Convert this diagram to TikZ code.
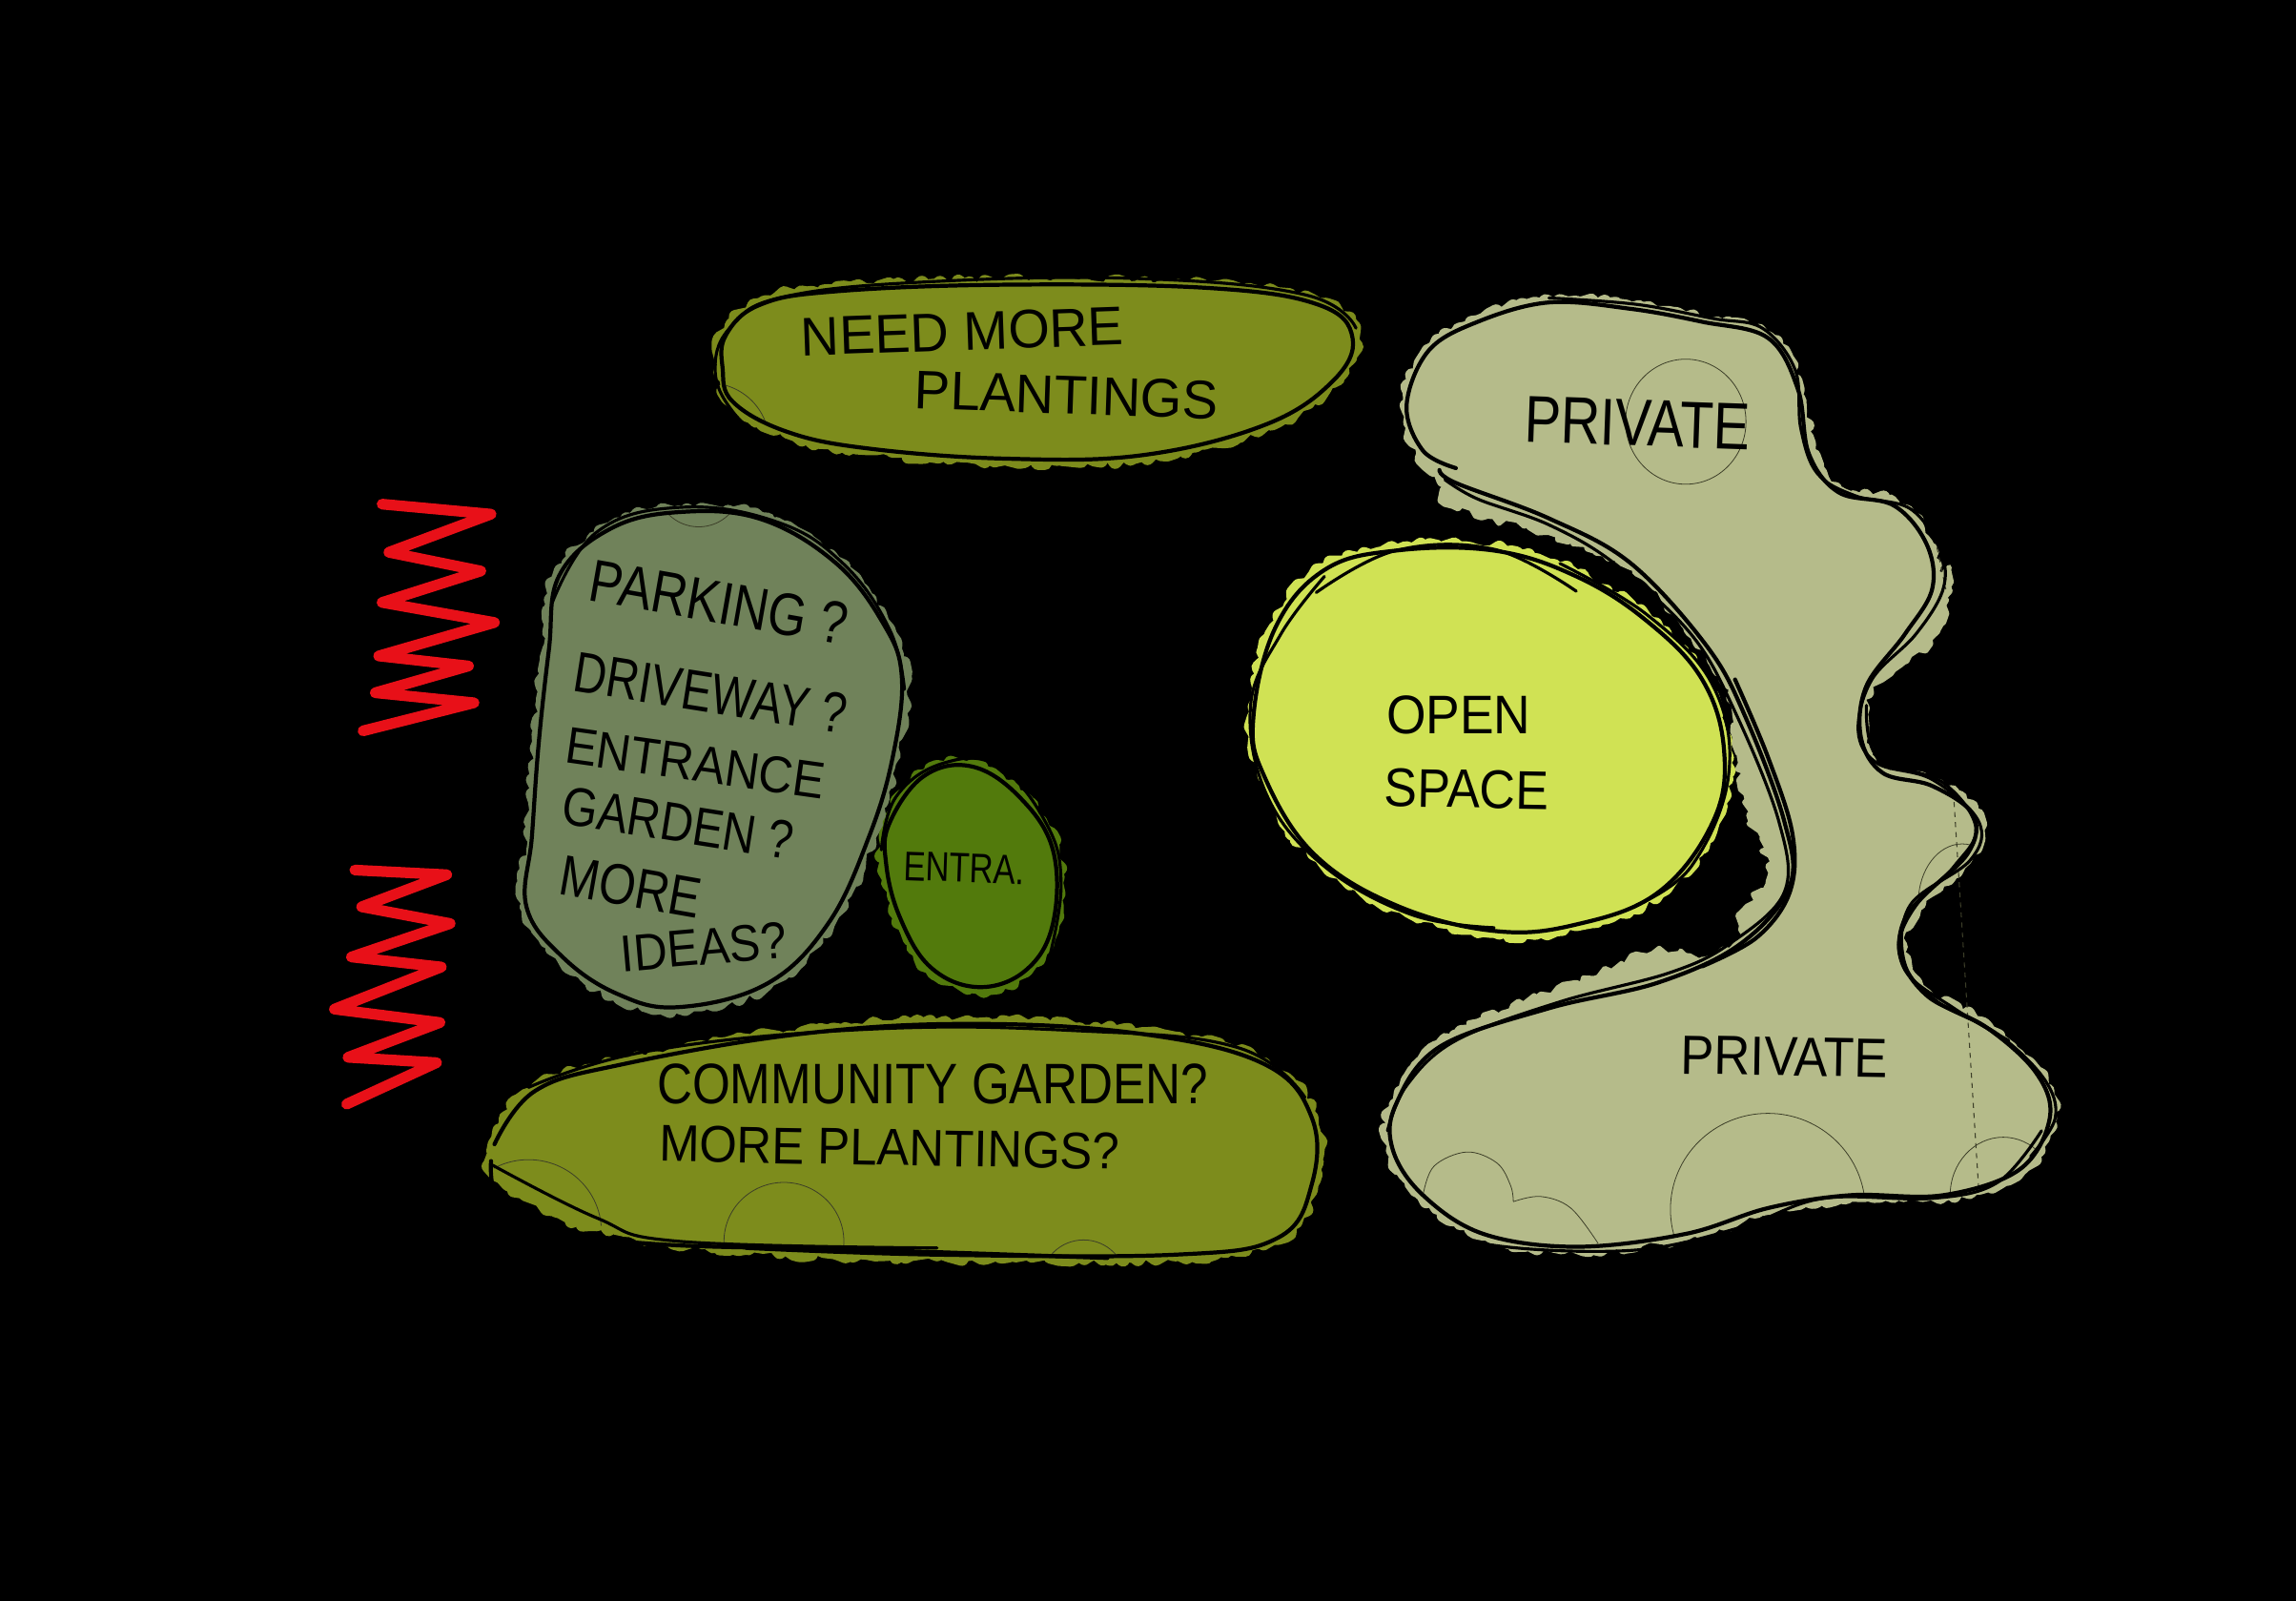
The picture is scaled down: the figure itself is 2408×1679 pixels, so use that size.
\documentclass[tikz,border=0pt]{standalone}
\usepackage{fontspec}
\usepackage{graphicx}
\setmainfont{Liberation Sans}
\usetikzlibrary{decorations.pathmorphing}
\definecolor{olivepaint}{RGB}{125,140,28}
\definecolor{graypaint}{RGB}{112,130,90}
\definecolor{greenpaint}{RGB}{82,122,12}
\definecolor{limepaint}{RGB}{208,226,84}
\definecolor{khakipaint}{RGB}{181,187,138}
\definecolor{redpaint}{RGB}{232,16,24}
\definecolor{faint}{RGB}{60,62,40}
\newdimen\pxu \pxu=0.5669pt
\newcommand\hw[3]{\resizebox{#1\pxu}{#2\pxu}{#3}}
\def\pathTop{plot[smooth cycle,tension=.65] coordinates {(590,130)(640,85)(750,65)(1000,55)(1300,60)(1460,85)(1510,135)(1480,200)(1380,265)(1200,310)(1000,315)(800,300)(680,275)(600,230)(585,180)}}
\def\pathPark{plot[smooth cycle,tension=.65] coordinates {(345,490)(420,420)(520,395)(640,405)(750,470)(820,560)(848,640)(835,760)(800,880)(740,1010)(650,1100)(520,1135)(430,1115)(350,1060)(297,985)(305,880)(315,740)(330,600)}}
\def\pathEntry{plot[smooth cycle,tension=.65] coordinates {(830,860)(880,790)(950,775)(1020,820)(1070,900)(1070,1010)(1030,1080)(960,1105)(890,1075)(845,1000)(825,920)}}
\def\pathComm{plot[smooth cycle,tension=.65] coordinates {(250,1340)(310,1260)(440,1220)(700,1175)(950,1160)(1200,1175)(1380,1220)(1450,1300)(1450,1400)(1400,1480)(1250,1505)(900,1505)(620,1495)(400,1460)(270,1400)}}
\def\pathPriv{plot[smooth cycle,tension=.6] coordinates {(340,215)(380,130)(470,85)(600,55)(750,65)(880,85)(1000,110)(1055,190)(1075,290)(1130,350)(1230,370)(1290,430)(1300,500)(1250,570)(1180,650)(1170,730)(1210,785)(1300,805)(1375,850)(1365,910)(1270,990)(1240,1060)(1290,1130)(1400,1180)(1490,1250)(1515,1320)(1460,1400)(1320,1440)(1150,1440)(1000,1460)(850,1500)(650,1520)(480,1500)(370,1440)(315,1370)(320,1300)(400,1210)(600,1150)(800,1110)(950,1050)(1040,960)(1030,860)(960,700)(890,590)(750,460)(600,390)(430,335)(370,290)}}
\def\pathLime{plot[smooth cycle,tension=.65] coordinates {(60,700)(100,560)(190,470)(320,440)(500,440)(650,480)(780,550)(880,640)(920,750)(900,860)(800,970)(650,1020)(500,1030)(320,990)(170,910)(80,790)}}
\tikzset{
  zoomA/.style={shift={(340,260)},xscale=0.7143,yscale=0.7015},
  zoomB/.style={shift={(1280,280)},xscale=0.5741,yscale=0.676},
  ink/.style={draw=black,line width=2.4pt,line cap=round,line join=round},
  inkthin/.style={draw=black,line width=1.8pt,line cap=round,line join=round},
  fuzz/.style={line width=8pt,line join=round,line cap=round,decorate,decoration={random steps,segment length=3.5pt,amplitude=2.5pt}},
  ring/.style={draw=faint,line width=0.45pt},
  zig/.style={draw=redpaint,line width=6.4pt,line cap=round,line join=round},
  hand/.style={inner sep=0pt,text=black},
}
\begin{document}
\begin{tikzpicture}[x=0.02cm,y=-0.02cm]
\pgfmathsetseed{7}
\useasboundingbox (0,0) rectangle (2408,1679);
\fill[black] (0,0) rectangle (2408,1679);
% left column
\begin{scope}[zoomA]
  % paint
  \draw[olivepaint,fuzz] \pathTop; \fill[olivepaint] \pathTop;
  \draw[graypaint,fuzz] \pathPark; \fill[graypaint] \pathPark;
  \draw[greenpaint,fuzz] \pathEntry; \fill[greenpaint] \pathEntry;
  \draw[olivepaint,fuzz] \pathComm; \fill[olivepaint] \pathComm;
  % faint circles
  \begin{scope}\clip \pathTop; \draw[ring] (565,290) circle (88); \end{scope}
  \begin{scope}\clip \pathPark; \draw[ring] (550,355) circle (62); \end{scope}
  \begin{scope}\clip \pathComm;
    \draw[ring] (300,1470) circle (107);
    \draw[ring] (675,1485) circle (88);
    \draw[ring] (1115,1545) circle (62);
  \end{scope}
  % sketch outlines
  \draw[ink] \pathTop;
  \draw[inkthin] plot[smooth,tension=.7] coordinates {(660,298)(600,245)(574,180)(600,115)(680,72)(900,50)(1200,46)(1440,70)(1515,120)};
  \draw[ink] \pathPark;
  \draw[inkthin] plot[smooth,tension=.7] coordinates {(335,530)(400,425)(520,388)(660,408)(760,470)(830,570)(852,660)};
  \draw[ink] \pathEntry;
  \draw[inkthin] plot[smooth,tension=.7] coordinates {(818,900)(840,820)(910,770)(990,775)(1060,860)(1082,950)(1065,1060)};
  \draw[ink] plot[smooth,tension=.65] coordinates {(250,1340)(310,1260)(440,1220)(700,1175)(950,1160)(1200,1175)(1380,1220)(1450,1300)(1450,1400)(1400,1480)(1250,1505)(900,1505)(620,1495)};
  \draw[ink] plot[smooth,tension=.65] coordinates {(245,1365)(260,1430)(350,1470)(500,1490)(800,1498)(1150,1510)};
  \draw[inkthin] plot[smooth,tension=.65] coordinates {(245,1370)(400,1450)(520,1485)(900,1495)};
  \draw[inkthin] plot[smooth,tension=.7] coordinates {(300,1255)(480,1200)(800,1168)(1100,1170)(1340,1195)(1440,1270)};
  % red zigzags
  \coordinate (zu0) at (85,383);
  \draw[zig] (zu0) -- (245,398) -- (95,455) -- (230,483) -- (85,530) -- (250,560) -- (80,610) -- (212,625) -- (75,665) -- (220,680) -- (57,722);
  \coordinate (zl0) at (45,930);
  \draw[zig] (zl0) -- (180,937) -- (55,985) -- (185,1010) -- (40,1060) -- (172,1075) -- (15,1138) -- (170,1158) -- (35,1210) -- (165,1218) -- (33,1280);
  % labels
  \node[hand,rotate=2] (t1) at (937,125) {\hw{340}{40}{NEED MORE}};
  \node[hand,rotate=-2] (t2) at (1090,220) {\hw{320}{40}{PLANTINGS}};
  \node[hand,rotate=-10] (t3) at (580,530) {\hw{275}{44}{PARKING ?}};
  \node[hand,rotate=-9] (t4) at (568,665) {\hw{290}{42}{DRIVEWAY ?}};
  \node[hand,rotate=-8] (t5) at (545,770) {\hw{275}{38}{ENTRANCE}};
  \node[hand,rotate=-9] (t6) at (520,860) {\hw{245}{40}{GARDEN ?}};
  \node[hand,rotate=-10] (t7) at (450,955) {\hw{150}{42}{MORE}};
  \node[hand,rotate=5] (t8) at (557,1045) {\hw{175}{38}{IDEAS?}};
  \node[hand,rotate=-2] (t9) at (940,927) {\hw{128}{30}{ENTRA.}};
  \node[hand] (t10) at (893,1250) {\hw{580}{42}{COMMUNITY GARDEN?}};
  \node[hand,rotate=-1] (t11) at (830,1345) {\hw{485}{38}{MORE PLANTINGS?}};
\end{scope}
% right column
\begin{scope}[zoomB]
  \draw[khakipaint,fuzz] \pathPriv; \fill[khakipaint] \pathPriv;
  % paint that spills past the sketched line
  \draw[khakipaint,fuzz,line width=3pt,fill=khakipaint] plot[smooth cycle,tension=.6] coordinates {(930,640)(950,770)(965,850)(1005,940)(955,1000)(960,1040)(1040,960)(1030,860)(960,700)};
  \draw[khakipaint,fuzz,line width=3pt,fill=khakipaint] plot[smooth cycle,tension=.6] coordinates {(425,370)(600,412)(700,445)(750,460)(600,390)(430,335)};
  \draw[khakipaint,fuzz,line width=3pt,fill=khakipaint] plot[smooth cycle,tension=.6] coordinates {(470,1170)(650,1110)(790,1065)(880,1075)(800,1110)(600,1150)(400,1210)};
  \draw[khakipaint,fuzz,line width=3pt,fill=khakipaint] plot[smooth cycle,tension=.6] coordinates {(1230,625)(1310,565)(1330,470)(1300,500)(1250,570)(1195,640)};
  \draw[limepaint,fuzz] \pathLime; \fill[limepaint] \pathLime;
  % faint circles and dashes
  \draw[ring] (850,240) ellipse (110 and 97);
  \begin{scope}\clip \pathPriv;
    \draw[ring] (1000,1462) ellipse (178 and 149);
    \draw[ring] plot[smooth,tension=.6] coordinates {(370,1440)(390,1395)(450,1373)(505,1390)(530,1425)(535,1450)};
    \draw[ring] plot[smooth,tension=.6] coordinates {(535,1450)(585,1442)(640,1460)(690,1515)};
    \draw[ring] (1430,1440) ellipse (97 and 90);
    \draw[ring] (1355,985) ellipse (80 and 90);
  \end{scope}
  \coordinate (da) at (1305,420); \coordinate (db) at (1325,500);
  \coordinate (dc) at (1340,830); \coordinate (dd) at (1385,1430);
  \draw[faint,line width=0.6pt,dashed] (da) -- (db);
  \draw[faint,line width=0.6pt,dashed] (dc) -- (dd);
  % sketch outlines
  \draw[ink] plot[smooth,tension=.6] coordinates {(430,312)(370,285)(340,215)(380,130)(470,85)(600,55)(750,65)(880,85)(1000,110)(1055,190)(1075,290)(1130,350)(1230,370)(1290,430)(1300,500)(1250,570)(1180,650)(1170,730)(1210,785)(1300,805)(1375,850)(1365,910)(1270,990)(1240,1060)(1290,1130)(1400,1180)(1490,1250)(1515,1320)(1460,1400)(1320,1440)(1150,1440)(1000,1460)(850,1500)(650,1520)(480,1500)(370,1440)(315,1370)(320,1300)(400,1210)(600,1150)(800,1110)(950,1050)(1040,960)(1030,860)(960,700)(890,590)(750,460)(600,390)(430,335)(400,315)};
  \draw[inkthin] plot[smooth,tension=.6] coordinates {(600,48)(760,58)(900,80)(990,95)(1050,160)(1060,250)(1090,320)(1160,355)(1260,375)(1315,440)(1320,500)(1270,570)(1190,640)(1165,720)(1200,770)(1300,795)(1385,860)(1370,920)(1260,990)(1250,1080)(1310,1140)(1420,1190)(1505,1260)(1525,1320)(1480,1380)};
  \draw[inkthin] plot[smooth,tension=.6] coordinates {(305,1340)(340,1270)(430,1200)(620,1140)(820,1095)(930,1050)(1030,970)(1020,860)(940,690)(860,570)(720,460)(600,400)(470,360)(410,330)};
  \draw[inkthin] plot[smooth,tension=.6] coordinates {(1180,680)(1200,760)(1320,800)(1380,870)(1340,930)(1250,1010)(1250,1090)(1340,1150)(1440,1200)};
  \draw[inkthin] plot[smooth,tension=.6] coordinates {(320,1410)(400,1490)(520,1520)(760,1525)(950,1490)(1100,1445)(1300,1445)(1420,1420)(1500,1340)};
  \draw[ink] plot[smooth,tension=.6] coordinates {(940,640)(1000,760)(1045,880)(1040,970)(980,1040)(880,1085)};
  \draw[ink] \pathLime;
  \draw[inkthin] plot[smooth,tension=.65] coordinates {(175,505)(320,440)(500,438)(650,503)};
  \draw[inkthin] plot[smooth,tension=.65] coordinates {(190,480)(110,570)(55,680)(85,820)(190,930)(350,1005)(500,1025)};
  \draw[inkthin] plot[smooth,tension=.65] coordinates {(620,460)(780,540)(900,650)(928,790)(860,930)(760,990)};
  % labels
  \node[hand] (t12) at (435,695) {\hw{152}{40}{OPEN}};
  \node[hand,rotate=-1] (t13) at (450,810) {\hw{173}{40}{SPACE}};
  \node[hand,rotate=-2] (t14) at (762,242) {\hw{238}{48}{PRIVATE}};
  \node[hand,rotate=-1] (t15) at (1030,1225) {\hw{218}{40}{PRIVATE}};
\end{scope}
\end{tikzpicture}
\end{document}
